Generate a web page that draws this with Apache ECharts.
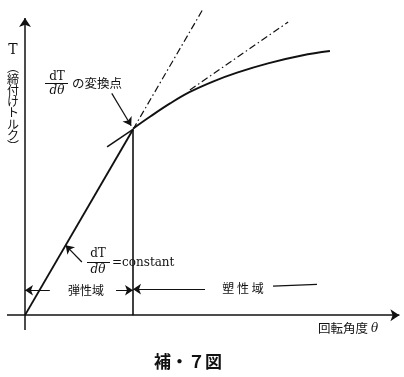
<!DOCTYPE html>
<html>
<head>
<meta charset="utf-8">
<script src="https://cdn.jsdelivr.net/npm/echarts@6/dist/echarts.min.js"></script>
<style>
  html, body { margin: 0; padding: 0; background: #fff; }
  #main { width: 404px; height: 377px; }
</style>
</head>
<body>
<div id="main"></div>
<script>
// 回転角度 θ と 締付けトルク T (任意単位)
const elasticLine = [[0, 0], [3, 5]];
const elasticExtension = [[3, 5], [4.92, 8.2]];
const plasticCurve = [
  [3, 5.02], [3.47, 5.34], [4.03, 5.7], [4.58, 6.01], [5.22, 6.29],
  [5.89, 6.53], [6.75, 6.78], [7.69, 6.99], [8.47, 7.11]
];
const tangentBack = [[2.28, 4.53], [3, 5]];
const tangentExtension = [[4.58, 6.06], [7.31, 7.89]];
const kneeDrop = [[3, 0], [3, 5]];

// 軸と注釈の矢印
const axisArrows = [
  [[-0.5, 0], [10.4, 0]],
  [[0, -0.4], [0, 8]]
];
const pointerArrows = [
  [[2.41, 5.97], [2.95, 5.1]],
  [[1.58, 1.43], [1.13, 1.88]]
];
const regionArrows = [
  [[0.69, 0.67], [0, 0.67]],
  [[2.53, 0.67], [3, 0.67]],
  [[5.0, 0.7], [3, 0.7]]
];
const regionLine = [[6.89, 0.78], [8.11, 0.83]];

const serif = '"DejaVu Serif", "Liberation Serif", serif';
const jp = '"Noto Sans CJK JP", sans-serif';
const ink = '#111';
const dashDot = [7, 3, 1.5, 3];

var chartDom = document.getElementById('main');
var myChart = echarts.init(chartDom);
var option;

function seg(data, width, type) {
  return {
    type: 'line',
    data: data,
    symbol: 'none',
    clip: false,
    silent: true,
    lineStyle: { color: ink, width: width, type: type || 'solid' }
  };
}

option = {
  animation: false,
  grid: { left: 7, right: 4.6, top: 18, bottom: 47 },
  xAxis: { type: 'value', min: -0.5, max: 10.4, show: false },
  yAxis: { type: 'value', min: -0.4, max: 8, show: false },
  series: [
    seg(elasticLine, 1.9),
    seg(elasticExtension, 1.2, dashDot),
    Object.assign(seg(plasticCurve, 1.9), { smooth: 0.4 }),
    seg(tangentBack, 1.5),
    seg(tangentExtension, 1.2, dashDot),
    seg(kneeDrop, 1.6),
    seg(regionLine, 1.2),
    {
      type: 'lines',
      coordinateSystem: 'cartesian2d',
      symbol: ['none', 'arrow'],
      symbolSize: [6, 9],
      silent: true,
      lineStyle: { color: ink, width: 1.5, opacity: 1 },
      data: axisArrows.map(function (c) { return { coords: c }; })
    },
    {
      type: 'lines',
      coordinateSystem: 'cartesian2d',
      symbol: ['none', 'arrow'],
      symbolSize: [5, 8],
      silent: true,
      lineStyle: { color: ink, width: 1.2, opacity: 1 },
      data: pointerArrows.concat(regionArrows).map(function (c) { return { coords: c }; })
    }
  ],
  graphic: [
    { type: 'text', x: 13, y: 50, style: { text: 'T', font: '14px ' + serif, fill: ink, textAlign: 'center', textVerticalAlign: 'middle' } },
    { type: 'text', x: 13, y: 62, style: { text: '︵\n締\n付\nけ\nト\nル\nク\n︶', font: '12px ' + jp, lineHeight: 11.3, fill: ink, textAlign: 'center', textVerticalAlign: 'top' } },

    { type: 'text', x: 57, y: 77, style: { text: 'dT', font: '12px ' + serif, fill: ink, textAlign: 'center', textVerticalAlign: 'middle' } },
    { type: 'line', shape: { x1: 45, y1: 83.5, x2: 68, y2: 83.5 }, style: { stroke: ink, lineWidth: 1 } },
    { type: 'text', x: 57, y: 91, style: { text: 'dθ', font: 'italic 12px ' + serif, fill: ink, textAlign: 'center', textVerticalAlign: 'middle' } },
    { type: 'text', x: 72, y: 83, style: { text: 'の変換点', font: '12.5px ' + jp, fill: ink, textAlign: 'left', textVerticalAlign: 'middle' } },

    { type: 'text', x: 98, y: 254, style: { text: 'dT', font: '12px ' + serif, fill: ink, textAlign: 'center', textVerticalAlign: 'middle' } },
    { type: 'line', shape: { x1: 87, y1: 262.5, x2: 110, y2: 262.5 }, style: { stroke: ink, lineWidth: 1 } },
    { type: 'text', x: 98, y: 270, style: { text: 'dθ', font: 'italic 12px ' + serif, fill: ink, textAlign: 'center', textVerticalAlign: 'middle' } },
    { type: 'text', x: 112, y: 263, style: { text: '=constant', font: '12px ' + serif, fill: ink, textAlign: 'left', textVerticalAlign: 'middle' } },

    { type: 'text', x: 86, y: 290, style: { text: '弾性域', font: '12px ' + jp, fill: ink, textAlign: 'center', textVerticalAlign: 'middle' } },
    { type: 'text', x: 243, y: 288, style: { text: '塑 性 域', font: '12px ' + jp, fill: ink, textAlign: 'center', textVerticalAlign: 'middle' } },
    { type: 'text', x: 318, y: 328, style: { text: '回転角度', font: '12.5px ' + jp, fill: ink, textAlign: 'left', textVerticalAlign: 'middle' } },
    { type: 'text', x: 371, y: 329, style: { text: 'θ', font: 'italic 12px ' + serif, fill: ink, textAlign: 'left', textVerticalAlign: 'middle' } },

    { type: 'text', x: 188, y: 362, style: { text: '補・７図', font: 'bold 17px ' + jp, fill: ink, textAlign: 'center', textVerticalAlign: 'middle' } }
  ]
};

option && myChart.setOption(option);
</script>
</body>
</html>
